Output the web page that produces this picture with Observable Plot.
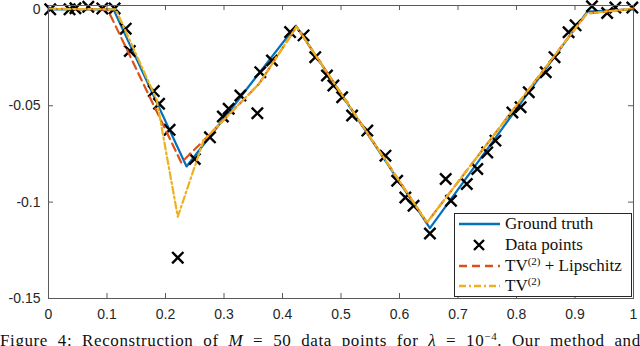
<!DOCTYPE html>
<html>
<head>
<meta charset="utf-8">
<script src="https://cdn.jsdelivr.net/npm/d3@7"></script>
<script src="https://cdn.jsdelivr.net/npm/@observablehq/plot@0.6"></script>
<style>
  html, body { margin: 0; padding: 0; background: #fff; overflow: hidden; }
  #wrap { position: relative; width: 640px; }
  #legend { position: absolute; left: 454px; top: 213px; width: 178px; height: 84px;
    background: #fff; border: 1px solid #262626; box-sizing: border-box;
    font-family: "Liberation Serif", "DejaVu Serif", serif; font-size: 17px; color: #111; }
  .row { position: absolute; left: 0; height: 20px; display: flex; align-items: center; white-space: nowrap; }
  .row svg { margin-left: 4px; margin-right: 5px; }
  .row span sup { font-size: 11px; vertical-align: 6px; line-height: 0; }
  #caption { font-family: "Liberation Serif", "DejaVu Serif", serif; font-size: 17px; line-height: 17px;
    letter-spacing: 0.6px; word-spacing: 5px;
    white-space: nowrap; overflow: hidden; margin-top: 2px; color: #111; }
  #caption sup { font-size: 11px; vertical-align: 6px; line-height: 0; }
</style>
</head>
<body>
<div id="wrap">
  <div id="chart"></div>
  <div id="legend"></div>
  <div id="caption">Figure 4: Reconstruction of <i>M</i> = 50 data points for <i>λ</i> = 10<sup>−4</sup>. Our method and</div>
</div>
<script>
// ---- data ----
const dataX = [0.003,0.036,0.046,0.068,0.092,0.113,0.132,0.139,0.180,0.189,
  0.207,0.221,0.250,0.276,0.298,0.308,0.328,0.357,0.362,0.382,
  0.413,0.436,0.456,0.476,0.487,0.502,0.519,0.545,0.576,0.596,
  0.610,0.624,0.652,0.679,0.688,0.715,0.733,0.750,0.764,0.793,
  0.807,0.821,0.850,0.865,0.889,0.901,0.929,0.955,0.969,0.998];
const dataY = [0.0000,0.0000,0.0006,0.0013,0.0005,0.0005,-0.0100,-0.0216,-0.0424,-0.0490,
  -0.0625,-0.1288,-0.0776,-0.0664,-0.0556,-0.0516,-0.0447,-0.0539,-0.0326,-0.0265,
  -0.0118,-0.0135,-0.0248,-0.0343,-0.0395,-0.0456,-0.0551,-0.0629,-0.0759,-0.0889,
  -0.0976,-0.1019,-0.1163,-0.0880,-0.0993,-0.0906,-0.0828,-0.0742,-0.0681,-0.0535,
  -0.0508,-0.0430,-0.0326,-0.0248,-0.0119,-0.0083,0.0016,-0.0019,0.0009,0.0009];

const truthX = [0, 0.111, 0.236, 0.423, 0.652, 0.921, 1];
const truthY = [0, 0, -0.0815, -0.0085, -0.1135, -0.0012, 0];

const lipX = [0, 0.101, 0.227, 0.262, 0.360, 0.424, 0.647, 0.920, 1];
const lipY = [0.0003, 0, -0.0795, -0.0690, -0.0386, -0.0090, -0.1106, -0.0022, 0.0004];

const tv2X = [0, 0.115, 0.185, 0.221, 0.265, 0.360, 0.424, 0.647, 0.920, 1];
const tv2Y = [0.0002, 0, -0.0470, -0.1076, -0.0680, -0.0386, -0.0090, -0.1106, -0.0022, 0.0004];

const xTicks = [0,0.1,0.2,0.3,0.4,0.5,0.6,0.7,0.8,0.9,1];
const xTickLabels = ["0","0.1","0.2","0.3","0.4","0.5","0.6","0.7","0.8","0.9","1"];
const yTicks = [0,-0.05,-0.1,-0.15];
const yTickLabels = ["0","-0.05","-0.1","-0.15"];

const seriesNames = ["Ground truth", "Data points", "TV(2) + Lipschitz", "TV(2)"];
const colors = {truth: "#0072BD", lip: "#D95319", tv2: "#EDB120", pts: "#000000"};

// ---- build ----
const toRows = (xs, ys) => xs.map((x, i) => ({x, y: ys[i]}));
const truth = toRows(truthX, truthY);
const pts = toRows(dataX, dataY);
const lip = toRows(lipX, lipY);
const tv2 = toRows(tv2X, tv2Y);

const W = 640, H = 330, mL = 48, mR = 7, mT = 5, mB = 32;
const innerW = W - mL - mR, innerH = H - mT - mB;
const axisColor = "#5a5a5a";

const chart = Plot.plot({
  width: W, height: H,
  marginLeft: mL, marginRight: mR, marginTop: mT, marginBottom: mB,
  style: {fontFamily: "'Liberation Sans', Arial, sans-serif", fontSize: "14px", color: "#262626", background: "#fff"},
  x: {domain: [0, 1], label: null},
  y: {domain: [-0.15, 0.002], label: null},
  marks: [
    Plot.line(truth, {x: "x", y: "y", stroke: colors.truth, strokeWidth: 2.2}),
    Plot.dot(pts, {x: "x", y: "y", symbol: "times", r: 5.2, stroke: colors.pts, strokeWidth: 2.4}),
    Plot.line(lip, {x: "x", y: "y", stroke: colors.lip, strokeWidth: 2.2, strokeDasharray: "8,5"}),
    Plot.line(tv2, {x: "x", y: "y", stroke: colors.tv2, strokeWidth: 2.2, strokeDasharray: "7,3,2,3"}),
    Plot.frame({stroke: axisColor, strokeWidth: 1}),
    Plot.tickX(xTicks, {x: d => d, insetTop: innerH - 5, stroke: axisColor}),
    Plot.tickX(xTicks, {x: d => d, insetBottom: innerH - 5, stroke: axisColor}),
    Plot.tickY(yTicks, {y: d => d, insetRight: innerW - 5, stroke: axisColor}),
    Plot.tickY(yTicks, {y: d => d, insetLeft: innerW - 5, stroke: axisColor}),
    Plot.axisX(xTicks, {tickSize: 0, tickPadding: 11, tickFormat: d => xTickLabels[xTicks.indexOf(d)], label: null}),
    Plot.axisY(yTicks, {tickSize: 0, tickPadding: 8, tickFormat: d => yTickLabels[yTicks.indexOf(d)], label: null})
  ]
});
document.getElementById("chart").appendChild(chart);
chart.style.display = "block";

// ---- legend ----
const legend = document.getElementById("legend");
const rowsTop = [0, 21, 41.5, 62];
const samples = [
  `<line x1="0" y1="6" x2="41" y2="6" stroke="${colors.truth}" stroke-width="2.4"/>`,
  `<path d="M15,1 L25,11 M25,1 L15,11" stroke="#000" stroke-width="2.4"/>`,
  `<line x1="0" y1="6" x2="41" y2="6" stroke="${colors.lip}" stroke-width="2.4" stroke-dasharray="8,5"/>`,
  `<line x1="0" y1="6" x2="41" y2="6" stroke="${colors.tv2}" stroke-width="2.4" stroke-dasharray="7,3,2,3"/>`
];
const labelsHTML = seriesNames.map(s => s.replace("(2)", "<sup>(2)</sup>"));
rowsTop.forEach((t, i) => {
  const r = document.createElement("div");
  r.className = "row";
  r.style.top = t + "px";
  r.innerHTML = `<svg width="41" height="12">${samples[i]}</svg><span>${labelsHTML[i]}</span>`;
  legend.appendChild(r);
});
</script>
</body>
</html>
